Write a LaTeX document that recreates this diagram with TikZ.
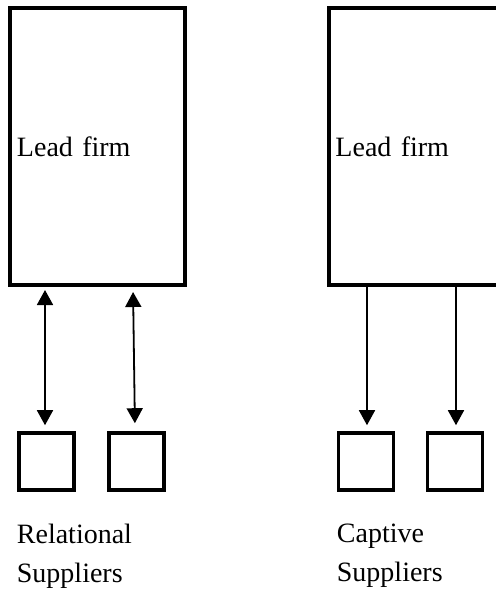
\documentclass[tikz,border=0pt]{standalone}
\usepackage{fontspec}
\setmainfont{Liberation Serif}
\usetikzlibrary{arrows.meta,calc}

\tikzset{
  firmbox/.style={draw, line width=2pt, minimum width=87.5pt, minimum height=138.5pt,
    text width=81pt, inner xsep=3pt, align=left},
  supbox/.style={draw, line width=1.8pt, minimum width=27.5pt, minimum height=28.5pt, inner sep=0pt},
  grouplabel/.style={anchor=north west, align=left, inner sep=0pt},
  onetip/.style={line width=0.9pt, -{Triangle[width=8pt,length=7.5pt]}},
  twotip/.style={line width=0.9pt, {Triangle[width=8pt,length=7.5pt]}-{Triangle[width=8pt,length=7.5pt]}},
}

\begin{document}
\begin{tikzpicture}[x=0.5pt, y=-0.5pt, font=\fontsize{14}{19.5}\selectfont]
        \useasboundingbox (0,0) rectangle (496,591);
        \clip (0,0) rectangle (496,591);

        % Relational side.
        \node[firmbox] (leadrel) at (98,146.5) {Lead firm};
        \node[supbox] (relsupa) at (46.5,461.5) {};
        \node[supbox] (relsupb) at (136.5,461.5) {};
        \draw[twotip, shorten <=1.5pt, shorten >=3pt] ($(leadrel.south -| relsupa.north)+(-1.5,0)$) -- ($(relsupa.north)+(-1.5,0)$);
        \draw[twotip, shorten <=2.5pt, shorten >=4pt] ($(leadrel.south -| relsupb.north)+(-3.5,0)$) -- ($(relsupb.north)+(-1.5,0)$);
        \node[grouplabel] (rellabel) at (16.5,524) {Relational\\Suppliers};

        % Captive side (box runs off the right edge).
        \node[firmbox, minimum width=100pt, text width=94pt] (leadcap) at (429.5,146.5) {Lead firm};
        \node[supbox] (capsupa) at (366,461.5) {};
        \node[supbox] (capsupb) at (455,461.5) {};
        \draw[onetip, shorten >=3pt] ($(leadcap.south -| capsupa.north)+(1,0)$) -- ($(capsupa.north)+(1,0)$);
        \draw[onetip, shorten >=3pt] ($(leadcap.south -| capsupb.north)+(1,0)$) -- ($(capsupb.north)+(1,0)$);
        \node[grouplabel] (caplabel) at (336.5,524) {Captive\\Suppliers};
\end{tikzpicture}
\end{document}
